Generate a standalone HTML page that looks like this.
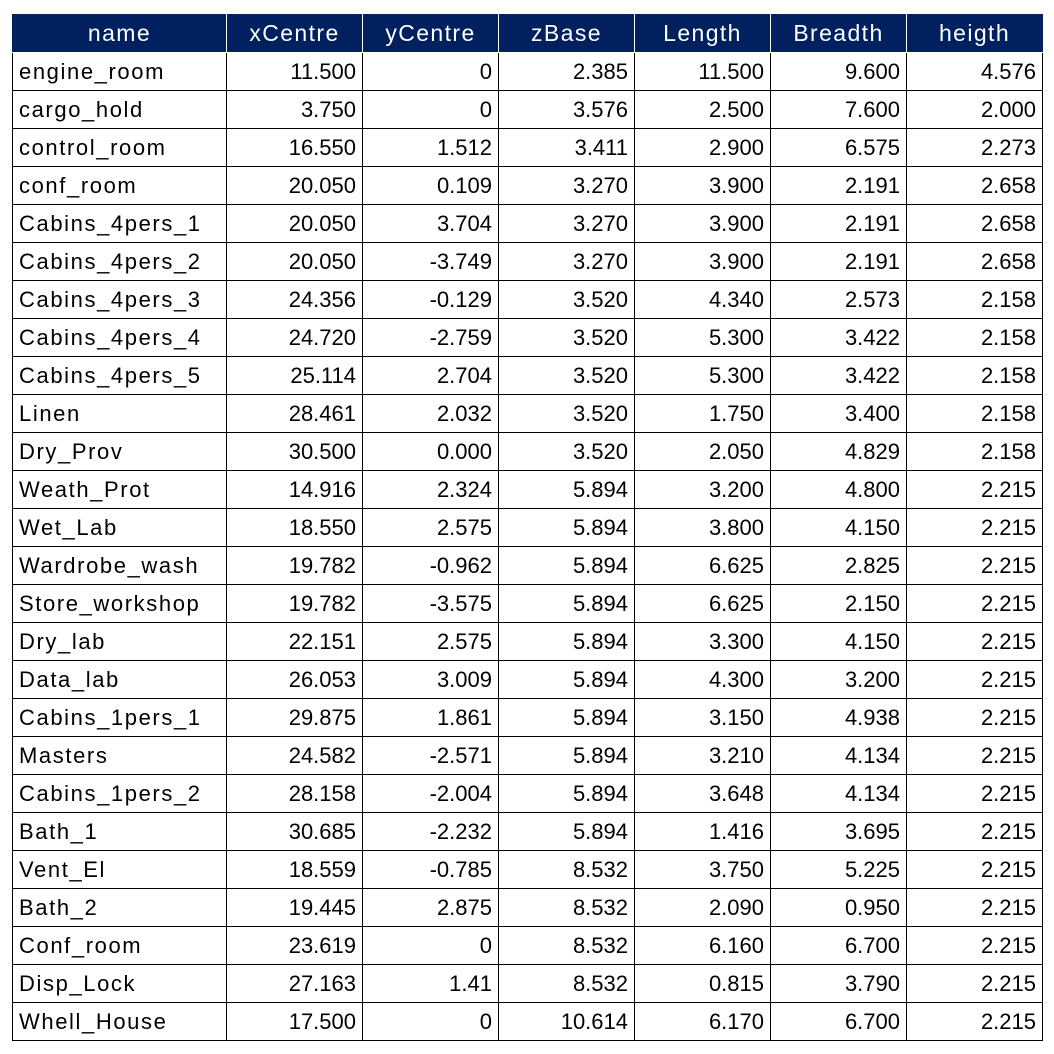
<!DOCTYPE html>
<html><head><meta charset="utf-8">
<style>
html,body{margin:0;padding:0;background:#fff;width:1054px;height:1054px;overflow:hidden}
table{position:absolute;left:12px;top:14px;border-collapse:collapse;table-layout:fixed;font-family:"Liberation Sans",sans-serif;font-size:22px;color:#000}
td,th{border:1px solid #000;height:37px;padding:0 6px;white-space:nowrap;overflow:hidden;line-height:37px}
th{background:#002060;color:#fff;font-weight:normal;text-align:center;border-color:#fff;border-top-color:#002060;font-size:23px;letter-spacing:1.4px}
th:first-child{border-left-color:#002060}th:last-child{border-right-color:#002060}
td{text-align:right}
td:first-child{text-align:left;letter-spacing:1.6px}
</style></head><body>
<table>
<colgroup><col style="width:214px"><col style="width:136px"><col style="width:136px"><col style="width:136px"><col style="width:136px"><col style="width:136px"><col style="width:136px"></colgroup>
<thead><tr>
<th>name</th><th>xCentre</th><th>yCentre</th><th>zBase</th><th>Length</th><th>Breadth</th><th>heigth</th>
</tr></thead>
<tbody id="tb">
<tr><td>engine_room</td><td>11.500</td><td>0</td><td>2.385</td><td>11.500</td><td>9.600</td><td>4.576</td></tr>
<tr><td>cargo_hold</td><td>3.750</td><td>0</td><td>3.576</td><td>2.500</td><td>7.600</td><td>2.000</td></tr>
<tr><td>control_room</td><td>16.550</td><td>1.512</td><td>3.411</td><td>2.900</td><td>6.575</td><td>2.273</td></tr>
<tr><td>conf_room</td><td>20.050</td><td>0.109</td><td>3.270</td><td>3.900</td><td>2.191</td><td>2.658</td></tr>
<tr><td>Cabins_4pers_1</td><td>20.050</td><td>3.704</td><td>3.270</td><td>3.900</td><td>2.191</td><td>2.658</td></tr>
<tr><td>Cabins_4pers_2</td><td>20.050</td><td>-3.749</td><td>3.270</td><td>3.900</td><td>2.191</td><td>2.658</td></tr>
<tr><td>Cabins_4pers_3</td><td>24.356</td><td>-0.129</td><td>3.520</td><td>4.340</td><td>2.573</td><td>2.158</td></tr>
<tr><td>Cabins_4pers_4</td><td>24.720</td><td>-2.759</td><td>3.520</td><td>5.300</td><td>3.422</td><td>2.158</td></tr>
<tr><td>Cabins_4pers_5</td><td>25.114</td><td>2.704</td><td>3.520</td><td>5.300</td><td>3.422</td><td>2.158</td></tr>
<tr><td>Linen</td><td>28.461</td><td>2.032</td><td>3.520</td><td>1.750</td><td>3.400</td><td>2.158</td></tr>
<tr><td>Dry_Prov</td><td>30.500</td><td>0.000</td><td>3.520</td><td>2.050</td><td>4.829</td><td>2.158</td></tr>
<tr><td>Weath_Prot</td><td>14.916</td><td>2.324</td><td>5.894</td><td>3.200</td><td>4.800</td><td>2.215</td></tr>
<tr><td>Wet_Lab</td><td>18.550</td><td>2.575</td><td>5.894</td><td>3.800</td><td>4.150</td><td>2.215</td></tr>
<tr><td>Wardrobe_wash</td><td>19.782</td><td>-0.962</td><td>5.894</td><td>6.625</td><td>2.825</td><td>2.215</td></tr>
<tr><td>Store_workshop</td><td>19.782</td><td>-3.575</td><td>5.894</td><td>6.625</td><td>2.150</td><td>2.215</td></tr>
<tr><td>Dry_lab</td><td>22.151</td><td>2.575</td><td>5.894</td><td>3.300</td><td>4.150</td><td>2.215</td></tr>
<tr><td>Data_lab</td><td>26.053</td><td>3.009</td><td>5.894</td><td>4.300</td><td>3.200</td><td>2.215</td></tr>
<tr><td>Cabins_1pers_1</td><td>29.875</td><td>1.861</td><td>5.894</td><td>3.150</td><td>4.938</td><td>2.215</td></tr>
<tr><td>Masters</td><td>24.582</td><td>-2.571</td><td>5.894</td><td>3.210</td><td>4.134</td><td>2.215</td></tr>
<tr><td>Cabins_1pers_2</td><td>28.158</td><td>-2.004</td><td>5.894</td><td>3.648</td><td>4.134</td><td>2.215</td></tr>
<tr><td>Bath_1</td><td>30.685</td><td>-2.232</td><td>5.894</td><td>1.416</td><td>3.695</td><td>2.215</td></tr>
<tr><td>Vent_El</td><td>18.559</td><td>-0.785</td><td>8.532</td><td>3.750</td><td>5.225</td><td>2.215</td></tr>
<tr><td>Bath_2</td><td>19.445</td><td>2.875</td><td>8.532</td><td>2.090</td><td>0.950</td><td>2.215</td></tr>
<tr><td>Conf_room</td><td>23.619</td><td>0</td><td>8.532</td><td>6.160</td><td>6.700</td><td>2.215</td></tr>
<tr><td>Disp_Lock</td><td>27.163</td><td>1.41</td><td>8.532</td><td>0.815</td><td>3.790</td><td>2.215</td></tr>
<tr><td>Whell_House</td><td>17.500</td><td>0</td><td>10.614</td><td>6.170</td><td>6.700</td><td>2.215</td></tr>
</tbody></table>
<script>
var rows=document.querySelectorAll('#tb tr');
for(var i=0;i<rows.length;i++){
var r=rows[i];


for(var j=0;j<r.cells.length;j++){
var c=r.cells[j];


}
}
</script>
</body></html>
